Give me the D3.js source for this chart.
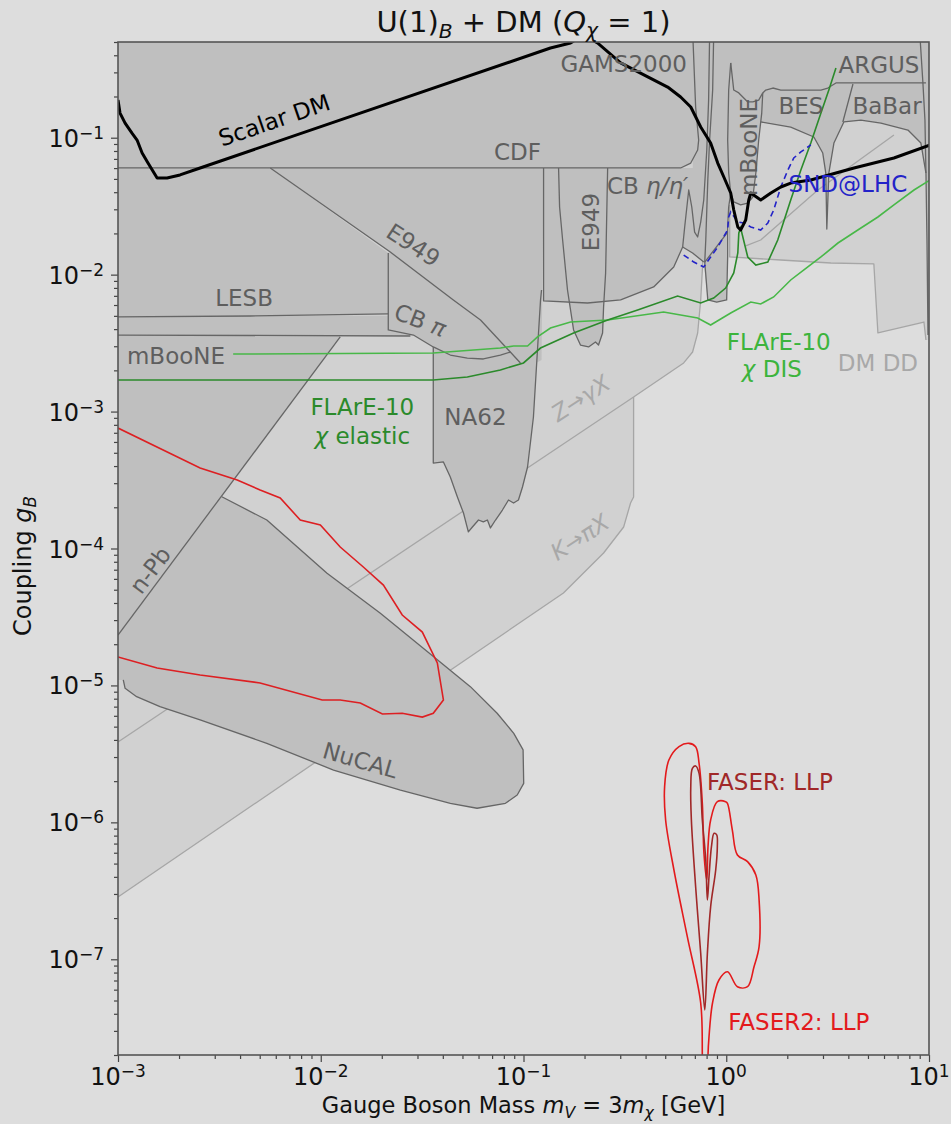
<!DOCTYPE html>
<html><head><meta charset="utf-8">
<script src="https://cdn.jsdelivr.net/npm/d3@7"></script>
<style>
html,body{margin:0;padding:0;background:#dddddd;}
svg{display:block;font-family:"DejaVu Sans",sans-serif;}
</style></head>
<body><svg id="chart" width="951" height="1124"></svg>
<script>
// ================= DATA: points are [log10(m_V / GeV), log10(g_B)] =================
// light (indirect) constraints
const zToGammaX = [[-3.0,-5.413],[-0.457,-2.894],[-0.210,-2.645],[-0.166,-2.565],[-0.141,-2.426],[-0.126,-2.185],[-0.116,-1.915],[-0.110,-1.2]];
const kToPiX = [[-3.0,-6.545],[-0.803,-4.325],[-0.605,-4.033],[-0.506,-3.843],[-0.472,-3.668],[-0.457,-3.624],[-0.457,-2.894]];
const dmDD = [[0.017,-1.491],[0.017,-1.871],[0.269,-1.893],[0.516,-1.915],[0.728,-1.922],[0.748,-2.426],[0.975,-2.346],[0.985,-2.477]];
const lightArc = [[0.096,-1.790],[0.170,-1.747],[0.452,-1.382],[0.827,-0.980]];

// dark (excluded) constraints
const cdfGams = [[-3.0,-1.221],[-0.225,-1.221],[-0.175,-1.185],[-0.141,-1.090],[-0.136,-1.017],[-0.151,-0.776],[-0.165,-0.25]];
const upperRight = [[-0.901,-1.221],[-0.901,-2.192],[-0.684,-2.207],[-0.521,-2.185],[-0.358,-2.090],[-0.259,-1.944],[-0.215,-1.798],[-0.166,-1.842],[-0.111,-1.908],[-0.091,-2.185],[-0.047,-2.200],[0.002,-2.185],[0.007,-1.652],[0.012,-1.506],[0.022,-1.404],[0.037,-1.469],[0.071,-1.491],[0.106,-1.477],[0.131,-1.433],[0.146,-1.258],[0.160,-1.017],[0.170,-0.885],[0.318,-0.922],[0.432,-0.995],[0.476,-1.112],[0.491,-1.258],[0.496,-1.667],[0.506,-1.258],[0.531,-1.039],[0.580,-0.885],[0.664,-0.871],[0.763,-0.893],[0.896,-0.944],[0.960,-1.039],[0.985,-1.258],[0.990,-1.747],[0.995,-2.441],[1.05,-2.441],[1.05,-0.2],[-0.165,-0.2],[-0.165,-1.221]];
const cbEta = [[-0.901,-1.221],[-0.901,-2.192],[-0.684,-2.207],[-0.521,-2.185],[-0.358,-2.090],[-0.259,-1.944],[-0.215,-1.798],[-0.205,-1.652],[-0.185,-1.382],[-0.170,-1.506],[-0.156,-1.689],[-0.141,-1.725],[-0.126,-1.616],[-0.111,-1.455],[-0.096,-1.090],[-0.087,-0.725],[-0.082,-0.25]];
const rhoBand = [[-0.062,-0.25],[-0.067,-0.652],[-0.082,-1.017],[-0.091,-1.309],[-0.101,-1.747],[-0.106,-1.908],[-0.091,-2.185],[-0.047,-2.200],[0.002,-2.185],[0.007,-1.864],[0.007,-1.652],[0.012,-1.506],[0.022,-1.404]];
const notchLeft = [[-0.215,-1.798],[-0.166,-1.842],[-0.111,-1.908]];
const notchRight = [[-0.106,-1.908],[-0.052,-1.805],[0.007,-1.689]];
const mbooneRight = [[0.022,-0.454],[0.012,-0.652],[0.007,-1.017],[0.012,-1.258],[0.022,-1.404],[0.037,-1.469],[0.071,-1.491],[0.106,-1.477],[0.131,-1.433],[0.146,-1.258],[0.160,-1.017],[0.175,-0.820],[0.180,-0.673]];
const besTop = [[0.022,-0.454],[0.037,-0.652],[0.062,-0.673],[0.106,-0.739],[0.131,-0.739],[0.160,-0.725],[0.180,-0.673],[0.195,-0.652],[0.230,-0.637],[0.269,-0.652],[0.467,-0.652],[0.501,-0.637],[0.541,-0.600],[0.985,-0.600]];
const besBabarLow = [[0.170,-0.885],[0.318,-0.922],[0.432,-0.995],[0.476,-1.112],[0.491,-1.258],[0.496,-1.667],[0.506,-1.258],[0.531,-1.039],[0.580,-0.885],[0.664,-0.871],[0.763,-0.893],[0.896,-0.944],[0.960,-1.039],[0.985,-1.258],[0.990,-1.747],[0.995,-2.441]];
const besBabarSep = [[0.625,-0.608],[0.575,-0.885]];
const upsilon = [[0.955,-0.25],[0.970,-0.600],[0.980,-0.871],[0.985,-1.258]];
const lesb = [[-3.0,-2.309],[-2.348,-2.302],[-1.667,-2.287]];
const e949Diag = [[-2.249,-1.221],[-1.657,-1.835],[-1.346,-2.185],[-1.212,-2.331],[-1.015,-2.645]];
const cbPi = [[-1.667,-1.842],[-1.667,-2.404],[-1.543,-2.441],[-1.445,-2.528],[-1.361,-2.587],[-1.277,-2.609],[-1.198,-2.616],[-1.114,-2.587],[-1.064,-2.565]];
const mbooneLeft = [[-3.0,-2.441],[-1.558,-2.448]];
const nPb = [[-3.0,-4.632],[-1.904,-2.455]];
const nucal = [[-2.488,-3.622],[-2.266,-3.792],[-1.969,-4.181],[-1.706,-4.473],[-1.443,-4.790],[-1.262,-5.009],[-1.130,-5.203],[-1.048,-5.350],[-1.002,-5.471],[-0.999,-5.715],[-1.031,-5.800],[-1.089,-5.861],[-1.229,-5.897],[-1.361,-5.861],[-1.607,-5.764],[-1.937,-5.618],[-2.266,-5.423],[-2.595,-5.252],[-2.793,-5.155],[-2.908,-5.082],[-2.965,-5.021],[-2.974,-4.960]];
const na62 = [[-1.445,-2.528],[-1.445,-3.376],[-1.395,-3.368],[-1.361,-3.478],[-1.326,-3.624],[-1.296,-3.741],[-1.272,-3.879],[-1.252,-3.843],[-1.222,-3.792],[-1.198,-3.806],[-1.178,-3.792],[-1.163,-3.850],[-1.138,-3.792],[-1.104,-3.719],[-1.074,-3.646],[-1.049,-3.668],[-1.025,-3.646],[-1.005,-3.551],[-0.980,-3.405],[-0.951,-3.040],[-0.926,-2.426],[-0.916,-2.185],[-0.911,-2.112]];
const e949Vert = [[-0.827,-1.221],[-0.822,-1.506],[-0.807,-1.747],[-0.783,-2.112],[-0.753,-2.404],[-0.719,-2.514],[-0.679,-2.528],[-0.645,-2.492],[-0.630,-2.514],[-0.610,-2.426],[-0.605,-2.236],[-0.595,-1.988],[-0.585,-1.221]];

// sensitivity / relic curves
const flareElastic = [[-3.0,-2.769],[-1.445,-2.769],[-1.277,-2.747],[-1.114,-2.696],[-1.000,-2.645],[-0.916,-2.536],[-0.753,-2.426],[-0.585,-2.331],[-0.437,-2.258],[-0.240,-2.156],[-0.126,-2.207],[-0.062,-2.171],[-0.003,-2.098],[0.037,-1.988],[0.057,-1.842],[0.062,-1.696],[0.071,-1.659],[0.106,-1.871],[0.146,-1.930],[0.205,-1.908],[0.254,-1.747],[0.318,-1.455],[0.368,-1.236],[0.417,-1.039],[0.467,-0.820],[0.506,-0.652],[0.541,-0.491]];
const flareDIS = [[-2.432,-2.580],[-1.445,-2.572],[-1.114,-2.536],[-1.049,-2.521],[-0.980,-2.521],[-0.931,-2.455],[-0.867,-2.390],[-0.768,-2.346],[-0.585,-2.331],[-0.309,-2.273],[-0.141,-2.317],[-0.077,-2.368],[0.022,-2.280],[0.121,-2.200],[0.170,-2.214],[0.234,-2.163],[0.318,-2.039],[0.383,-1.966],[0.467,-1.871],[0.551,-1.769],[0.649,-1.674],[0.748,-1.579],[0.827,-1.491],[0.926,-1.382],[1.005,-1.309]];
const sndLHC = [[-0.210,-1.857],[-0.160,-1.908],[-0.111,-1.944],[-0.077,-1.871],[-0.042,-1.798],[0.007,-1.674],[0.012,-1.579],[0.022,-1.542],[0.057,-1.616],[0.086,-1.623],[0.121,-1.652],[0.170,-1.674],[0.205,-1.623],[0.234,-1.528],[0.269,-1.360],[0.304,-1.236],[0.333,-1.148],[0.368,-1.104],[0.417,-1.053]];
const scalarDM = [[-3.0,-0.725],[-2.990,-0.820],[-2.965,-0.893],[-2.931,-0.966],[-2.906,-1.017],[-2.881,-1.112],[-2.852,-1.185],[-2.807,-1.294],[-2.758,-1.294],[-2.694,-1.272],[-2.595,-1.221],[-0.867,-0.345],[-0.768,-0.308],[-0.704,-0.250],[-0.635,-0.308],[-0.521,-0.454],[-0.289,-0.630],[-0.225,-0.703],[-0.175,-0.776],[-0.126,-0.922],[-0.077,-1.039],[-0.042,-1.185],[-0.012,-1.287],[0.022,-1.404],[0.037,-1.528],[0.057,-1.652],[0.071,-1.674],[0.096,-1.601],[0.111,-1.455],[0.121,-1.404],[0.170,-1.455],[0.220,-1.404],[0.269,-1.360],[0.318,-1.331],[0.417,-1.309],[0.630,-1.221],[0.827,-1.148],[1.005,-1.053]];
const faser2Prompt = [[-3.0,-3.120],[-2.595,-3.412],[-2.412,-3.500],[-2.299,-3.573],[-2.200,-3.631],[-2.101,-3.792],[-2.002,-3.828],[-1.904,-3.989],[-1.790,-4.135],[-1.691,-4.267],[-1.598,-4.486],[-1.499,-4.610],[-1.425,-4.836],[-1.395,-5.106],[-1.445,-5.203],[-1.499,-5.231],[-1.598,-5.203],[-1.696,-5.209],[-1.805,-5.128],[-1.904,-5.106],[-1.993,-5.106],[-2.299,-4.982],[-2.595,-4.924],[-2.807,-4.873],[-3.0,-4.792]];
const faser2LLP = [[-0.117,-7.80],[-0.118,-7.699],[-0.126,-7.319],[-0.192,-6.835],[-0.258,-6.348],[-0.299,-5.983],[-0.304,-5.739],[-0.283,-5.545],[-0.233,-5.447],[-0.184,-5.423],[-0.151,-5.447],[-0.134,-5.569],[-0.118,-5.861],[-0.110,-6.226],[-0.096,-6.421],[-0.090,-6.178],[-0.077,-5.983],[-0.044,-5.849],[-0.003,-5.849],[0.006,-5.861],[0.030,-6.056],[0.055,-6.238],[0.105,-6.287],[0.146,-6.384],[0.162,-6.567],[0.162,-6.908],[0.137,-7.054],[0.105,-7.200],[0.055,-7.200],[0.006,-7.091],[-0.036,-7.151],[-0.068,-7.321],[-0.085,-7.565],[-0.090,-7.699],[-0.090,-7.80]];
const faserLLP = [[-0.106,-7.370],[-0.126,-6.956],[-0.151,-6.470],[-0.172,-5.983],[-0.175,-5.739],[-0.167,-5.605],[-0.151,-5.588],[-0.134,-5.642],[-0.118,-5.983],[-0.101,-6.275],[-0.093,-6.567],[-0.085,-6.397],[-0.073,-6.178],[-0.060,-6.080],[-0.047,-6.092],[-0.044,-6.178],[-0.052,-6.348],[-0.077,-6.616],[-0.093,-6.956]];

// axis ticks (decade exponents)
const xTickExp = [-3,-2,-1,0,1];
const yTickExp = [-7,-6,-5,-4,-3,-2,-1];

// ================= LAYOUT / STYLE =================
const X0=118, X1=929, Y0=42, Y1=1055;
const BG='#dddddd', DARK='#bfbfbf', LIGHT='#d1d1d1', DEDGE='#666666', LEDGE='#a6a6a6';
const svg = d3.select('#chart');
svg.append('rect').attr('width',951).attr('height',1124).attr('fill',BG);

const x = d3.scaleLog().domain([1e-3,10]).range([X0,X1]);
const y = d3.scaleLog().domain([2e-8,0.5]).range([Y1,Y0]);
const fx = d => x(Math.pow(10,d[0])), fy = d => y(Math.pow(10,d[1]));
const lin = d3.line().x(fx).y(fy);
const smooth = d3.line().x(fx).y(fy).curve(d3.curveCatmullRom.alpha(0.5));
const smoothClosed = d3.line().x(fx).y(fy).curve(d3.curveCatmullRomClosed.alpha(0.5));

svg.append('defs').append('clipPath').attr('id','plotclip')
  .append('rect').attr('x',X0).attr('y',Y0).attr('width',X1-X0).attr('height',Y1-Y0);
const plot = svg.append('g').attr('clip-path','url(#plotclip)');
plot.append('rect').attr('x',X0).attr('y',Y0).attr('width',X1-X0).attr('height',Y1-Y0).attr('fill',BG);

function fill(pts, color){ plot.append('path').attr('d', lin(pts)+'Z').attr('fill',color).attr('stroke','none'); }
function edge(pts, color, w){ plot.append('path').attr('d', lin(pts)).attr('fill','none').attr('stroke',color).attr('stroke-width',w||1.3).attr('stroke-linejoin','round'); }

// light fills
fill(zToGammaX.concat([[-0.110,-0.2],[-3.1,-0.2],[-3.1,-5.413]]), LIGHT);
fill([[-3.1,-6.545]].concat(kToPiX,[[-3.0,-5.413],[-3.1,-5.413]]), LIGHT);
fill(dmDD.concat([[1.05,-2.477],[1.05,-0.2],[0.017,-0.2]]), LIGHT);
// light edges
[zToGammaX,kToPiX,dmDD,lightArc].forEach(p=>edge(p,LEDGE,1.3));

// dark fills
fill(cdfGams.concat([[-0.165,-0.2],[-3.1,-0.2],[-3.1,-1.221]]), DARK);
fill(upperRight, DARK);
fill(lesb.concat([[-1.667,-1.842],[-2.249,-1.221],[-3.1,-1.221],[-3.1,-2.309]]), DARK);
fill(e949Diag.concat([[-0.965,-2.667],[-0.911,-2.623],[-0.901,-1.221]]), DARK);
fill(cbPi.concat([[-1.212,-2.331],[-1.346,-2.185],[-1.657,-1.835]]), DARK);
fill([[-3.1,-2.30],[-3.1,-2.441]].concat(mbooneLeft,[[-1.558,-2.30]]), DARK);
fill(nPb.concat([[-1.904,-2.43],[-3.1,-2.43],[-3.1,-4.632]]), DARK);
fill(nucal.concat([[-3.05,-4.96],[-3.05,-4.632],[-3.0,-4.632]]), DARK);
fill(na62.concat([[-0.911,-2.0],[-1.445,-2.0]]), DARK);
fill(e949Vert, DARK);
// dark edges
[cdfGams,cbEta,rhoBand,notchLeft,notchRight,mbooneRight,besTop,besBabarLow,besBabarSep,upsilon,
 lesb,e949Diag,cbPi,mbooneLeft,nPb,nucal,na62,e949Vert].forEach(p=>edge(p,DEDGE,1.3));

// curves
plot.append('path').attr('d',lin(flareDIS)).attr('fill','none').attr('stroke','#48b848').attr('stroke-width',1.6);
plot.append('path').attr('d',lin(flareElastic)).attr('fill','none').attr('stroke','#2b8a2b').attr('stroke-width',1.6);
plot.append('path').attr('d',lin(sndLHC)).attr('fill','none').attr('stroke','#2323c8').attr('stroke-width',1.6).attr('stroke-dasharray','6,4');
plot.append('path').attr('d',lin(faser2Prompt)).attr('fill','none').attr('stroke','#dd1f22').attr('stroke-width',1.6);
plot.append('path').attr('d',smooth(faser2LLP)).attr('fill','none').attr('stroke','#e31a1c').attr('stroke-width',1.6);
plot.append('path').attr('d',smoothClosed(faserLLP)).attr('fill','none').attr('stroke','#a02828').attr('stroke-width',1.6);
plot.append('path').attr('d',lin(scalarDM)).attr('fill','none').attr('stroke','#000').attr('stroke-width',3).attr('stroke-linejoin','round');

// ================= LABELS =================
function rich(sel, segs, size){
  let shift=0;
  segs.forEach(s=>{
    const ts = sel.append('tspan').text(s.t);
    if(s.it) ts.attr('font-style','italic');
    const target = s.sub ? size*0.2 : (s.sup ? -size*0.36 : 0);
    if(s.sub||s.sup) ts.attr('font-size', (size*0.7).toFixed(1));
    if(target-shift) ts.attr('dy', (target-shift).toFixed(1));
    shift = target;
  });
}
const DTXT='#5e5e5e', LTXT='#a8a8a8';
const annotations = [
  {s:[{t:'Scalar DM'}], at:[-2.230,-0.871], r:-19, c:'#000'},
  {s:[{t:'CDF'}], at:[-1.030,-1.104], r:0, c:DTXT},
  {s:[{t:'GAMS2000'}], at:[-0.506,-0.462], r:0, c:DTXT},
  {s:[{t:'ARGUS'}], at:[0.753,-0.469], r:0, c:DTXT},
  {s:[{t:'BES'}], at:[0.368,-0.768], r:0, c:DTXT},
  {s:[{t:'BaBar'}], at:[0.793,-0.768], r:0, c:DTXT},
  {s:[{t:'mBooNE'}], at:[0.111,-1.068], r:-90, c:DTXT},
  {s:[{t:'SND@LHC'}], at:[0.600,-1.338], r:0, c:'#2323c8'},
  {s:[{t:'CB '},{t:'η/η′',it:1}], at:[-0.388,-1.353], r:0, c:DTXT},
  {s:[{t:'E949'}], at:[-0.669,-1.616], r:-90, c:DTXT},
  {s:[{t:'E949'}], at:[-1.543,-1.783], r:33, c:DTXT},
  {s:[{t:'LESB'}], at:[-2.378,-2.171], r:0, c:DTXT},
  {s:[{t:'CB '},{t:'π',it:1}], at:[-1.509,-2.331], r:21, c:DTXT},
  {s:[{t:'mBooNE'}], at:[-2.714,-2.594], r:0, c:DTXT},
  {s:[{t:'NA62'}], at:[-1.237,-3.040], r:0, c:DTXT},
  {s:[{t:'Z',it:1},{t:'→'},{t:'γX',it:1}], at:[-0.719,-2.901], r:-33, c:LTXT},
  {s:[{t:'K',it:1},{t:'→'},{t:'πX',it:1}], at:[-0.723,-3.916], r:-33, c:LTXT},
  {s:[{t:'FLArE-10'}], at:[-1.795,-2.967], r:0, c:'#2b8a2b'},
  {s:[{t:'χ',it:1},{t:' elastic'}], at:[-1.795,-3.178], r:0, c:'#2b8a2b'},
  {s:[{t:'FLArE-10'}], at:[0.259,-2.492], r:0, c:'#3cb43c'},
  {s:[{t:'χ',it:1},{t:' DIS'}], at:[0.225,-2.689], r:0, c:'#3cb43c'},
  {s:[{t:'DM DD'}], at:[0.748,-2.645], r:0, c:LTXT},
  {s:[{t:'n-Pb'}], at:[-2.842,-4.157], r:-53, c:DTXT},
  {s:[{t:'NuCAL'}], at:[-1.805,-5.545], r:16, c:DTXT},
  {s:[{t:'FASER: LLP'}], at:[0.215,-5.705], r:0, c:'#a02828'},
  {s:[{t:'FASER2: LLP'}], at:[0.358,-7.458], r:0, c:'#e31a1c'}
];
const LSIZE=23;
annotations.forEach(a=>{
  const t = svg.append('text')
    .attr('transform',`translate(${fx(a.at)},${fy(a.at)}) rotate(${a.r})`)
    .attr('y', LSIZE*0.36).attr('text-anchor','middle')
    .attr('font-size',LSIZE).attr('fill',a.c);
  rich(t, a.s, LSIZE);
});

// ================= AXES =================
const minorX=[], minorY=[];
for(let e=-3;e<1;e++) for(let k=2;k<10;k++) minorX.push(k*Math.pow(10,e));
for(let e=-8;e<0;e++) for(let k=2;k<10;k++){ const v=k*Math.pow(10,e); if(v>=2e-8 && v<=0.5) minorY.push(v); }
const axX = svg.append('g').attr('transform',`translate(0,${Y1})`);
axX.call(d3.axisBottom(x).tickValues(xTickExp.map(e=>Math.pow(10,e))).tickSize(7).tickFormat(''));
const axXm = svg.append('g').attr('transform',`translate(0,${Y1})`);
axXm.call(d3.axisBottom(x).tickValues(minorX).tickSize(4).tickFormat(''));
const axY = svg.append('g').attr('transform',`translate(${X0},0)`);
axY.call(d3.axisLeft(y).tickValues(yTickExp.map(e=>Math.pow(10,e))).tickSize(7).tickFormat(''));
const axYm = svg.append('g').attr('transform',`translate(${X0},0)`);
axYm.call(d3.axisLeft(y).tickValues(minorY).tickSize(4).tickFormat(''));
[axX,axXm,axY,axYm].forEach(g=>{ g.select('.domain').remove(); g.selectAll('line').attr('stroke','#444').attr('stroke-width',1.2); });

const TSIZE=24;
xTickExp.forEach(e=>{
  const t = svg.append('text').attr('x',x(Math.pow(10,e))).attr('y',1085)
    .attr('text-anchor','middle').attr('font-size',TSIZE).attr('fill','#111');
  t.append('tspan').text('10');
  t.append('tspan').attr('font-size',17).attr('dy',-8).text(e<0?'−'+(-e):String(e));
});
yTickExp.forEach(e=>{
  const t = svg.append('text').attr('x',104).attr('y',y(Math.pow(10,e))+9)
    .attr('text-anchor','end').attr('font-size',TSIZE).attr('fill','#111');
  t.append('tspan').text('10');
  t.append('tspan').attr('font-size',17).attr('dy',-8).text('−'+(-e));
});

// frame
svg.append('rect').attr('x',X0).attr('y',Y0).attr('width',X1-X0).attr('height',Y1-Y0)
  .attr('fill','none').attr('stroke','#555').attr('stroke-width',1.6);

// axis titles
const xl = svg.append('text').attr('x',(X0+X1)/2).attr('y',1113).attr('text-anchor','middle').attr('font-size',22.5).attr('fill','#111');
rich(xl,[{t:'Gauge Boson Mass '},{t:'m',it:1},{t:'V',it:1,sub:1},{t:' = 3'},{t:'m',it:1},{t:'χ',it:1,sub:1},{t:' [GeV]'}],22.5);
const yl = svg.append('text').attr('transform',`translate(31,566) rotate(-90)`).attr('text-anchor','middle').attr('font-size',24).attr('fill','#111');
rich(yl,[{t:'Coupling '},{t:'g',it:1},{t:'B',it:1,sub:1}],24);
const tt = svg.append('text').attr('x',(X0+X1)/2).attr('y',32).attr('text-anchor','middle').attr('font-size',29).attr('fill','#111');
rich(tt,[{t:'U(1)'},{t:'B',it:1,sub:1},{t:' + DM ('},{t:'Q',it:1},{t:'χ',it:1,sub:1},{t:' = 1)'}],29);
</script>
</body></html>
